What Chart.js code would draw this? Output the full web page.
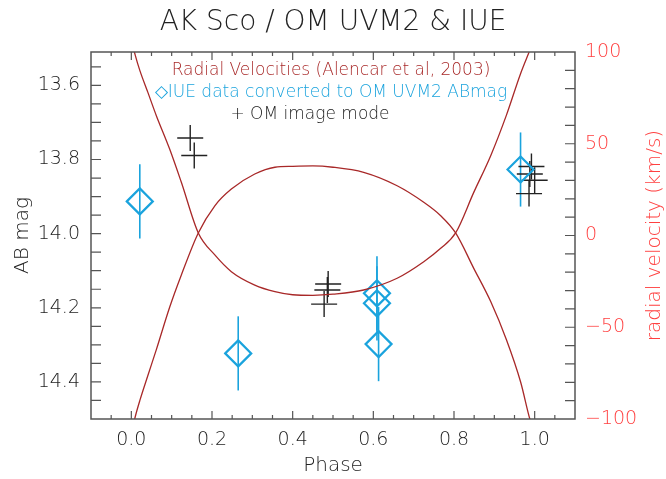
<!DOCTYPE html>
<html lang="en">
<head>
<meta charset="UTF-8">
<title>AK Sco / OM UVM2 &amp; IUE</title>
<style>
    html, body { margin: 0; padding: 0; background: #fff; }
</style>
</head>
<body>
<canvas id="akChart" width="666" height="479"></canvas>
<script src="https://cdn.jsdelivr.net/npm/chart.js"></script>
<script>

// radial velocity curves (Alencar et al, 2003), km/s vs phase
const rvPhase     = [0.0, 0.01, 0.021, 0.041, 0.062, 0.095, 0.124, 0.166, 0.207, 0.248, 0.306, 0.356, 0.40, 0.45, 0.50, 0.576, 0.659, 0.725, 0.767, 0.804, 0.849, 0.891, 0.93, 0.965, 0.988, 1.0];
const rvPrimary   = [107, 98, 90, 78, 65.3, 47.1, 29, 1.4, -10.6, -19.7, -27, -30.6, -32.3, -32.6, -32, -29.7, -23.3, -14.3, -7, 1.4, 23.5, 43.5, 65.6, 88.2, 101, 108];
const rvSecondary = [-108, -98.5, -90, -76.3, -62.2, -39.1, -21.5, 1.4, 16.2, 25.3, 33.5, 37.2, 37.7, 37.9, 37.2, 34.4, 27.1, 18.1, 10.8, 1.4, -17.9, -36, -56.8, -79.7, -100, -108];

// IUE data converted to OM UVM2 AB mag
const iuePhase = [0.021, 0.265, 0.609, 0.609, 0.613, 0.965];
const iueMag   = [13.913, 14.323, 14.161, 14.188, 14.298, 13.827];
const iueErr   = [0.10, 0.10, 0.10, 0.10, 0.10, 0.10];

// OM image mode
const omPhase = [0.146, 0.156, 0.488, 0.486, 0.478, 0.992, 0.988, 1.0, 0.986];
const omMag   = [13.742, 13.789, 14.136, 14.152, 14.19, 13.819, 13.839, 13.856, 13.892];

const RED = '#a82828';
const AXRED = '#ff4040';
const CYAN = '#1aa3dd';
const INK = '#222';
const FONT = "'DejaVu Sans', sans-serif";

Chart.defaults.font.family = FONT;
Chart.defaults.font.weight = 300;
Chart.defaults.color = INK;

function pts(xs, ys) {
    return xs.map((x, i) => ({x: x, y: ys[i]}));
}

// vertical error bars under the IUE diamonds
const errorBars = {
    id: 'errorBars',
    beforeDatasetsDraw(chart) {
        const ctx = chart.ctx;
        const x = chart.scales.x, y = chart.scales.y;
        ctx.save();
        ctx.strokeStyle = CYAN;
        ctx.lineWidth = 1.6;
        iuePhase.forEach((p, i) => {
            const px = x.getPixelForValue(p);
            ctx.beginPath();
            ctx.moveTo(px, y.getPixelForValue(iueMag[i] - iueErr[i]));
            ctx.lineTo(px, y.getPixelForValue(iueMag[i] + iueErr[i]));
            ctx.stroke();
        });
        ctx.restore();
    }
};

// IDL style box with inward ticks, plus the in-plot legend and right title
const frame = {
    id: 'frame',
    afterDatasetsDraw(chart) {
        const ctx = chart.ctx;
        const a = chart.chartArea;
        const {x, y, y2} = chart.scales;
        ctx.save();
        ctx.strokeStyle = '#555';
        ctx.lineWidth = 1.5;
        ctx.strokeRect(a.left, a.top, a.right - a.left, a.bottom - a.top);

        ctx.lineWidth = 1.2;
        ctx.beginPath();
        x.ticks.forEach(t => {
            const p = x.getPixelForValue(t.value);
            if (p <= a.left + 1 || p >= a.right - 1) return;
            const len = Math.round(t.value * 100) % 20 === 0 ? 8 : 4;
            ctx.moveTo(p, a.bottom); ctx.lineTo(p, a.bottom - len);
            ctx.moveTo(p, a.top); ctx.lineTo(p, a.top + len);
        });
        y.ticks.forEach(t => {
            const p = y.getPixelForValue(t.value);
            if (p <= a.top + 1 || p >= a.bottom - 1) return;
            ctx.moveTo(a.left, p); ctx.lineTo(a.left + 10, p);
        });
        y2.ticks.forEach(t => {
            const p = y2.getPixelForValue(t.value);
            if (p <= a.top + 1 || p >= a.bottom - 1) return;
            ctx.moveTo(a.right, p); ctx.lineTo(a.right - 10, p);
        });
        ctx.stroke();

        const cx = (a.left + a.right) / 2;
        ctx.font = '300 17px ' + FONT;
        ctx.textAlign = 'center';
        ctx.textBaseline = 'middle';
        ctx.fillStyle = RED;
        ctx.fillText('Radial Velocities (Alencar et al, 2003)', cx - 2, a.top + 19);
        ctx.fillStyle = CYAN;
        ctx.fillText('\u25C7IUE data converted to OM UVM2 ABmag', cx - 2, a.top + 41);
        ctx.fillStyle = INK;
        ctx.fillText('+ OM image mode', cx - 23, a.top + 63);

        ctx.translate(655, (a.top + a.bottom) / 2);
        ctx.rotate(-Math.PI / 2);
        ctx.font = '300 20px ' + FONT;
        ctx.fillStyle = AXRED;
        ctx.fillText('radial velocity (km/s)', 0, 0);
        ctx.restore();
    }
};

const ctx = document.getElementById('akChart').getContext('2d');
new Chart(ctx, {
    type: 'scatter',
    data: {
        datasets: [
            {
                type: 'line',
                data: pts(rvPhase, rvPrimary),
                yAxisID: 'y2',
                borderColor: RED,
                borderWidth: 1.3,
                pointRadius: 0,
                cubicInterpolationMode: 'monotone'
            },
            {
                type: 'line',
                data: pts(rvPhase, rvSecondary),
                yAxisID: 'y2',
                borderColor: RED,
                borderWidth: 1.3,
                pointRadius: 0,
                cubicInterpolationMode: 'monotone'
            },
            {
                data: pts(iuePhase, iueMag),
                yAxisID: 'y',
                pointStyle: 'rectRot',
                pointRadius: 13,
                borderColor: CYAN,
                borderWidth: 2.2,
                backgroundColor: 'rgba(0,0,0,0)'
            },
            {
                data: pts(omPhase, omMag),
                yAxisID: 'y',
                pointStyle: 'cross',
                pointRadius: 13,
                borderColor: '#222',
                borderWidth: 1.4
            }
        ]
    },
    options: {
        responsive: false,
        animation: false,
        events: [],
        layout: { padding: 0 },
        plugins: {
            legend: { display: false },
            tooltip: { enabled: false },
            title: {
                display: true,
                text: 'AK Sco / OM UVM2 & IUE',
                color: INK,
                font: { size: 28, weight: 300 },
                padding: { top: 6, bottom: 12.4 }
            }
        },
        scales: {
            x: {
                type: 'linear',
                position: 'bottom',
                min: -0.1,
                max: 1.1,
                grid: { display: false, drawTicks: false },
                border: { display: false },
                ticks: {
                    stepSize: 0.05,
                    autoSkip: false,
                    maxRotation: 0,
                    padding: 10,
                    color: INK,
                    font: { size: 19 },
                    callback: v => (Math.round(v * 100) % 20 === 0 ? v.toFixed(1) : '')
                },
                title: {
                    display: true,
                    text: 'Phase',
                    color: INK,
                    font: { size: 20 },
                    padding: { top: 0, bottom: 1 }
                },
                afterFit: s => { s.height = 60; }
            },
            y: {
                type: 'linear',
                position: 'left',
                reverse: true,
                min: 13.51,
                max: 14.5,
                bounds: 'data',
                // ticks every 0.05 mag on round values (the top edge is not one)
                afterBuildTicks: s => {
                    const t = [];
                    for (let k = Math.ceil(s.min * 20); k <= Math.floor(s.max * 20); k++) {
                        t.push({value: k / 20});
                    }
                    s.ticks = t;
                },
                grid: { display: false, drawTicks: false },
                border: { display: false },
                ticks: {
                    autoSkip: false,
                    padding: 11,
                    color: INK,
                    font: { size: 19 },
                    callback: v => (Math.round(v * 100) % 20 === 0 ? v.toFixed(1) : '')
                },
                title: {
                    display: true,
                    text: 'AB mag',
                    color: INK,
                    font: { size: 20 },
                    padding: { top: 11 }
                },
                afterFit: s => { s.width = 91; }
            },
            y2: {
                type: 'linear',
                position: 'right',
                min: -100,
                max: 100,
                grid: { display: false, drawTicks: false },
                border: { display: false },
                ticks: {
                    stepSize: 10,
                    autoSkip: false,
                    padding: 10,
                    color: AXRED,
                    font: { size: 19 },
                    callback: v => (v % 50 === 0 ? (v < 0 ? '\u2212' + Math.abs(v) : String(v)) : '')
                },
                afterFit: s => { s.width = 91; }
            }
        }
    },
    plugins: [errorBars, frame]
});

</script>
</body>
</html>
